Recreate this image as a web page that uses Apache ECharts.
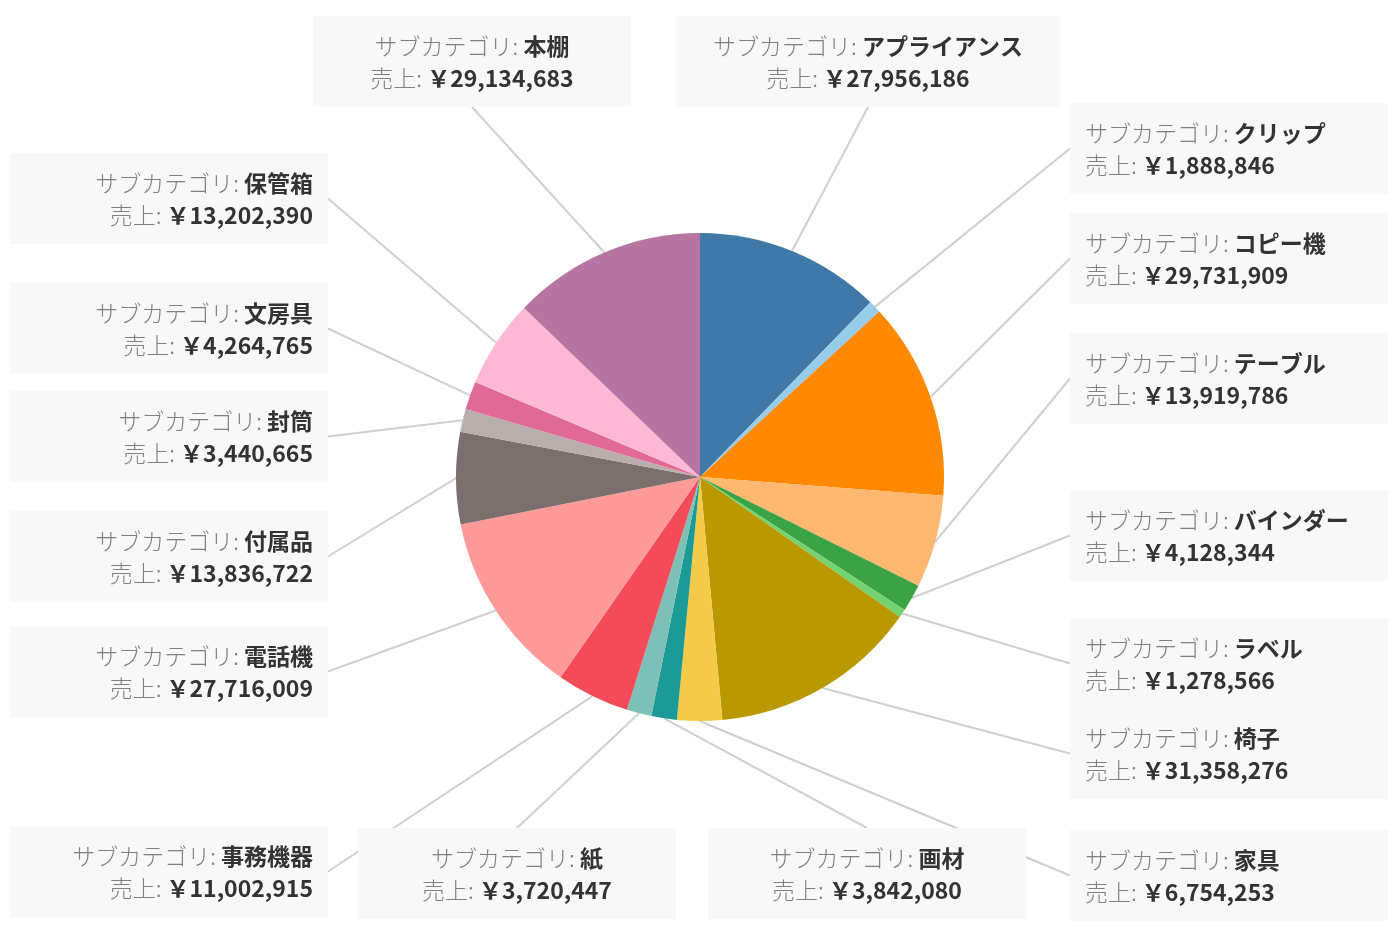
<!DOCTYPE html>
<html>
<head>
<meta charset="utf-8">
<script src="https://cdn.jsdelivr.net/npm/echarts@6/dist/echarts.min.js"></script>
<style>
html,body{margin:0;padding:0;background:#fff;}
#chart{width:1400px;height:933px;}
</style>
</head>
<body>
<div id="chart"></div>
<script>
const categories = ['アプライアンス','クリップ','コピー機','テーブル','バインダー','ラベル','椅子','家具','画材','紙','事務機器','電話機','付属品','封筒','文房具','保管箱','本棚'];
const sales = [27956186,1888846,29731909,13919786,4128344,1278566,31358276,6754253,3842080,3720447,11002915,27716009,13836722,3440665,4264765,13202390,29134683];
const colors = ['#3f79a8','#98ccec','#ff8900','#ffb86f','#3aa346','#73d46f','#ba9800','#f5ca4b','#1c9a95','#7cc0b8','#f34c58','#ff9a99','#7a6f6c','#b9aea9','#e06a95','#feb8d3','#b776a1'];

// label box placement: [anchorX, top, align, contentWidth, side]
const labelPlace = {
  'アプライアンス': [868, 16, 'center', 353, 'top'],
  'クリップ': [1070, 103, 'left', 288, 'right'],
  'コピー機': [1070, 213, 'left', 288, 'right'],
  'テーブル': [1070, 333, 'left', 288, 'right'],
  'バインダー': [1070, 490, 'left', 288, 'right'],
  'ラベル': [1070, 618, 'left', 288, 'right'],
  '椅子': [1070, 708, 'left', 288, 'right'],
  '家具': [1070, 830, 'left', 288, 'right'],
  '画材': [867, 828, 'center', 288, 'bottom'],
  '紙': [517, 828, 'center', 288, 'bottom'],
  '事務機器': [328, 826, 'right', 288, 'left'],
  '電話機': [328, 626, 'right', 288, 'left'],
  '付属品': [328, 511, 'right', 288, 'left'],
  '封筒': [328, 391, 'right', 288, 'left'],
  '文房具': [328, 283, 'right', 288, 'left'],
  '保管箱': [328, 153, 'right', 288, 'left'],
  '本棚': [472, 16, 'center', 288, 'top']
};

function fmt(n){ return String(n).replace(/\B(?=(\d{3})+(?!\d))/g, ','); }

const data = categories.map((c, i) => ({
  name: c,
  value: sales[i],
  itemStyle: { color: colors[i] },
  label: { width: labelPlace[c][3], align: labelPlace[c][2] }
}));

const chart = echarts.init(document.getElementById('chart'));
chart.setOption({
  animation: false,
  backgroundColor: '#ffffff',
  series: [{
    type: 'pie',
    center: [700, 477],
    radius: 244,
    startAngle: 90,
    clockwise: true,
    avoidLabelOverlap: false,
    data: data,
    label: {
      show: true,
      position: 'outside',
      formatter: p => '{k|サブカテゴリ: }{v|' + p.name + '}\n{k|売上: }{v|￥' + fmt(p.value) + '}',
      backgroundColor: '#f8f8f8',
      padding: [14, 15, 13, 15],
      lineHeight: 32,
      fontFamily: 'Noto Sans CJK JP',
      fontSize: 23,
      rich: {
        k: { color: '#808080', fontSize: 23, lineHeight: 32, fontWeight: 300, fontFamily: 'Noto Sans CJK JP' },
        v: { color: '#333333', fontSize: 23, lineHeight: 32, fontWeight: 'bold', fontFamily: 'Noto Sans CJK JP' }
      }
    },
    labelLine: {
      show: true,
      length: 10,
      length2: 0,
      lineStyle: { color: '#d0d0d0', width: 2 }
    },
    labelLayout: function (params) {
      const pl = labelPlace[categories[params.dataIndex]];
      const h = params.labelRect.height;
      let ex = pl[0], ey;
      if (pl[4] === 'top') ey = pl[1] + h;
      else if (pl[4] === 'bottom') ey = pl[1];
      else ey = pl[1] + h / 2;
      const p0 = params.labelLinePoints ? params.labelLinePoints[0] : null;
      const out = { x: pl[0], y: pl[1], align: pl[2], verticalAlign: 'top' };
      if (p0) out.labelLinePoints = [[p0[0], p0[1]], [ex, ey], [ex, ey]];
      return out;
    }
  }]
});
</script>
</body>
</html>
